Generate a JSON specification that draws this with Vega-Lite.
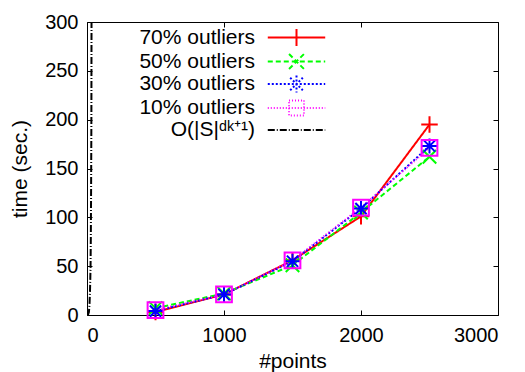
{
  "$schema": "https://vega.github.io/schema/vega-lite/v6.json",
  "width": 411,
  "height": 293,
  "autosize": "none",
  "padding": {"left": 87, "top": 22, "right": 27, "bottom": 57},
  "background": "white",
  "config": {
    "font": "Liberation Sans",
    "view": {"stroke": "black", "strokeWidth": 1},
    "axis": {
      "grid": false, "domain": false, "tickColor": "black", "tickSize": -5, "tickWidth": 1,
      "labelColor": "black", "labelFontSize": 20, "labelFont": "Liberation Sans",
      "titleFontSize": 21, "titleFontWeight": "normal", "titleColor": "black", "titleFont": "Liberation Sans"
    }
  },
  "data": {
    "values": [
      {"series": "O(|S|ᵈᵏ⁺¹)", "n": 0, "t": 0},
      {"series": "O(|S|ᵈᵏ⁺¹)", "n": 8, "t": 0.5},
      {"series": "O(|S|ᵈᵏ⁺¹)", "n": 14, "t": 3},
      {"series": "O(|S|ᵈᵏ⁺¹)", "n": 18, "t": 10},
      {"series": "O(|S|ᵈᵏ⁺¹)", "n": 22, "t": 25},
      {"series": "O(|S|ᵈᵏ⁺¹)", "n": 26, "t": 50},
      {"series": "O(|S|ᵈᵏ⁺¹)", "n": 28, "t": 80},
      {"series": "O(|S|ᵈᵏ⁺¹)", "n": 30, "t": 130},
      {"series": "O(|S|ᵈᵏ⁺¹)", "n": 32, "t": 200},
      {"series": "O(|S|ᵈᵏ⁺¹)", "n": 33, "t": 300},
      {"series": "70% outliers", "n": 500, "t": 3},
      {"series": "70% outliers", "n": 1000, "t": 21},
      {"series": "70% outliers", "n": 1500, "t": 56},
      {"series": "70% outliers", "n": 2000, "t": 101},
      {"series": "70% outliers", "n": 2500, "t": 195},
      {"series": "50% outliers", "n": 500, "t": 7},
      {"series": "50% outliers", "n": 1000, "t": 22},
      {"series": "50% outliers", "n": 1500, "t": 51},
      {"series": "50% outliers", "n": 2000, "t": 105},
      {"series": "50% outliers", "n": 2500, "t": 162},
      {"series": "30% outliers", "n": 500, "t": 4},
      {"series": "30% outliers", "n": 1000, "t": 21},
      {"series": "30% outliers", "n": 1500, "t": 55},
      {"series": "30% outliers", "n": 2000, "t": 109},
      {"series": "30% outliers", "n": 2500, "t": 173},
      {"series": "10% outliers", "n": 500, "t": 5},
      {"series": "10% outliers", "n": 1000, "t": 21},
      {"series": "10% outliers", "n": 1500, "t": 56},
      {"series": "10% outliers", "n": 2000, "t": 110},
      {"series": "10% outliers", "n": 2500, "t": 171}
    ]
  },
  "layer": [
    {
      "mark": {"type": "line", "strokeWidth": 2, "clip": true},
      "encoding": {
        "x": {
          "field": "n", "type": "quantitative",
          "scale": {"domain": [0, 3000], "nice": false, "zero": true},
          "axis": {"values": [0, 1000, 2000, 3000], "format": "d", "title": "#points", "labelPadding": 15, "titlePadding": 5}
        },
        "y": {
          "field": "t", "type": "quantitative",
          "scale": {"domain": [0, 300], "nice": false},
          "axis": {"values": [0, 50, 100, 150, 200, 250, 300], "format": "d", "title": "time (sec.)", "labelPadding": 14, "titlePadding": 14}
        },
        "color": {
          "field": "series", "type": "nominal",
          "scale": {
            "domain": ["70% outliers", "50% outliers", "30% outliers", "10% outliers", "O(|S|ᵈᵏ⁺¹)"],
            "range": ["#ff0000", "#00ff00", "#0000ff", "#ff00ff", "#000000"]
          },
          "legend": {
            "title": null, "orient": "none", "legendX": 199, "legendY": 5, "padding": 0, "rowPadding": -2.5,
            "labelFontSize": 21, "labelFont": "Liberation Sans", "labelColor": "black",
            "labelAlign": "right", "labelOffset": -52, "labelLimit": 300,
            "symbolSize": 132, "symbolStrokeWidth": 2,
            "encode": {
              "symbols": {
                "update": {
                  "shape": {"signal": "datum.value === '70% outliers' ? 'M-5,0H5M0,-1.5V1.5' : datum.value === '50% outliers' ? 'M-5,0H5M-1.3,-1.3L1.3,1.3M-1.3,1.3L1.3,-1.3' : datum.value === '30% outliers' ? 'M-5,0H5M0,-1.5V1.5M-1.1,-1.1L1.1,1.1M-1.1,1.1L1.1,-1.1' : datum.value === '10% outliers' ? 'M-5,0H5M-1.3,-1.3H1.3V1.3H-1.3Z' : 'M-5,0H5'"},
                  "size": {"value": 132},
                  "fill": {"value": "transparent"}
                }
              }
            }
          }
        },
        "strokeDash": {
          "field": "series", "type": "nominal",
          "scale": {
            "domain": ["70% outliers", "50% outliers", "30% outliers", "10% outliers", "O(|S|ᵈᵏ⁺¹)"],
            "range": [[1, 0], [5, 3], [2, 2], [1, 2], [7, 2, 1, 2]]
          }
        }
      }
    },
    {
      "transform": [{"filter": {"field": "series", "oneOf": ["70% outliers", "50% outliers", "30% outliers", "10% outliers"]}}],
      "mark": {"type": "point", "filled": false, "strokeWidth": 2, "size": 225, "opacity": 1},
      "encoding": {
        "x": {
          "field": "n", "type": "quantitative",
          "scale": {"domain": [0, 3000], "nice": false},
          "axis": {"orient": "top", "values": [0, 1000, 2000, 3000], "labels": false, "title": null}
        },
        "y": {
          "field": "t", "type": "quantitative",
          "scale": {"domain": [0, 300], "nice": false},
          "axis": {"orient": "right", "values": [0, 50, 100, 150, 200, 250, 300], "labels": false, "title": null}
        },
        "color": {"field": "series", "type": "nominal"},
        "shape": {
          "field": "series", "type": "nominal",
          "scale": {
            "domain": ["70% outliers", "50% outliers", "30% outliers", "10% outliers"],
            "range": ["M-1.1,0H1.1M0,-1.1V1.1", "M-0.9,-0.9L0.9,0.9M-0.9,0.9L0.9,-0.9", "M-1,0H1M0,-1V1M-0.75,-0.75L0.75,0.75M-0.75,0.75L0.75,-0.75", "M-1.05,-1.05H1.05V1.05H-1.05Z"]
          },
          "legend": null
        }
      }
    }
  ],
  "resolve": {"axis": {"x": "independent", "y": "independent"}}
}
